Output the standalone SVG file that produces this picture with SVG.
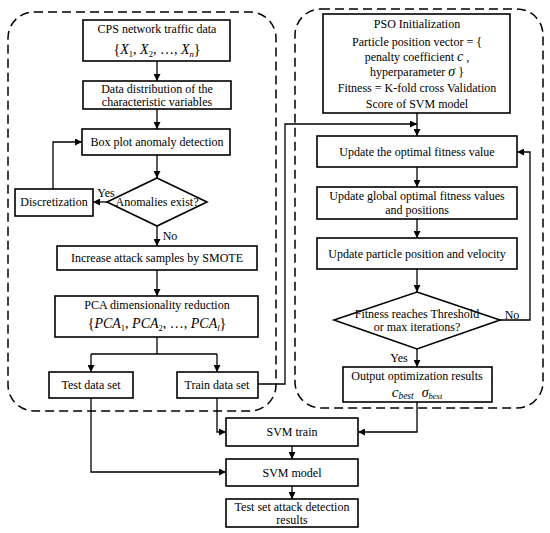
<svg xmlns="http://www.w3.org/2000/svg" width="550" height="533" viewBox="0 0 550 533" font-family="'Liberation Serif','Times New Roman',Times,serif">
<defs>
<style>
text{font-family:"Liberation Serif","Times New Roman",Times,serif;font-size:12px;fill:#000;text-anchor:middle}
.box{fill:#fff;stroke:#000;stroke-width:1.6}
.cont{fill:none;stroke:#000;stroke-width:1.5;stroke-dasharray:9 5}
.ln{fill:none;stroke:#000;stroke-width:1.3}
.m{font-size:14px}
.i{font-style:italic}
.s{font-size:8.5px}
</style>
<marker id="ah" viewBox="0 0 10 10" refX="10" refY="5" markerWidth="7" markerHeight="7" markerUnits="userSpaceOnUse" orient="auto">
<path d="M0,0 L10,5 L0,10 Z" fill="#000"/>
</marker>
</defs>
<rect width="550" height="533" fill="#fff"/>
<g id="containers">
<rect class="cont" x="8" y="12" width="268" height="399" rx="26" ry="26"/>
<rect class="cont" x="295" y="9" width="248" height="399" rx="26" ry="26"/>
</g>
<g id="connectors">
<path class="ln" d="M157,61 V81" marker-end="url(#ah)"/>
<path class="ln" d="M157,109 V129" marker-end="url(#ah)"/>
<path class="ln" d="M157,155 V178" marker-end="url(#ah)"/>
<path class="ln" d="M107,202 H93" marker-end="url(#ah)"/>
<path class="ln" d="M53,189 V142 H82" marker-end="url(#ah)"/>
<path class="ln" d="M157,226 V246" marker-end="url(#ah)"/>
<path class="ln" d="M157,270 V296" marker-end="url(#ah)"/>
<path class="ln" d="M157,337 V354"/>
<path class="ln" d="M91,354 H217"/>
<path class="ln" d="M91,354 V372" marker-end="url(#ah)"/>
<path class="ln" d="M217,354 V372" marker-end="url(#ah)"/>
<path class="ln" d="M258,384 H285 V124 H417" marker-end="url(#ah)"/>
<path class="ln" d="M417,113 V136" marker-end="url(#ah)"/>
<path class="ln" d="M417,167 V187" marker-end="url(#ah)"/>
<path class="ln" d="M417,219 V238" marker-end="url(#ah)"/>
<path class="ln" d="M417,269 V292" marker-end="url(#ah)"/>
<path class="ln" d="M500,320 H530 V152 H517" marker-end="url(#ah)"/>
<path class="ln" d="M417,349 V367" marker-end="url(#ah)"/>
<path class="ln" d="M417,402 V432 H358" marker-end="url(#ah)"/>
<path class="ln" d="M91,398 V472 H226" marker-end="url(#ah)"/>
<path class="ln" d="M217,398 V432 H226" marker-end="url(#ah)"/>
<path class="ln" d="M292,446 V459" marker-end="url(#ah)"/>
<path class="ln" d="M292,486 V499" marker-end="url(#ah)"/>
<text x="106" y="197">Yes</text>
<text x="170" y="240">No</text>
<text x="512" y="319">No</text>
<text x="399" y="362">Yes</text>
</g>
<g id="n-cps">
<rect class="box" x="83" y="20" width="147" height="41"/>
<text x="157" y="33">CPS network traffic data</text>
<text class="m" x="157" y="54">{<tspan class="i">X</tspan><tspan class="s" dy="3">1</tspan><tspan dy="-3">, </tspan><tspan class="i">X</tspan><tspan class="s" dy="3">2</tspan><tspan dy="-3">, …, </tspan><tspan class="i">X</tspan><tspan class="s i" dy="3">n</tspan><tspan dy="-3">}</tspan></text>
</g>
<g id="n-datadist">
<rect class="box" x="83" y="81" width="148" height="28"/>
<text x="157" y="93">Data distribution of the</text>
<text x="157" y="106">characteristic variables</text>
</g>
<g id="n-boxplot">
<rect class="box" x="82" y="129" width="148" height="26"/>
<text x="157" y="146">Box plot anomaly detection</text>
</g>
<g id="n-anom">
<polygon class="box" points="157,178 207,202 157,226 107,202"/>
<text x="157" y="206">Anomalies exist?</text>
</g>
<g id="n-disc">
<rect class="box" x="15" y="189" width="78" height="27"/>
<text x="54" y="206">Discretization</text>
</g>
<g id="n-smote">
<rect class="box" x="57" y="246" width="200" height="24"/>
<text x="157" y="262">Increase attack samples by SMOTE</text>
</g>
<g id="n-pca">
<rect class="box" x="55" y="296" width="203" height="41"/>
<text x="157" y="309">PCA dimensionality reduction</text>
<text class="m" x="157" y="328">{<tspan class="i">PCA</tspan><tspan class="s" dy="3">1</tspan><tspan dy="-3">, </tspan><tspan class="i">PCA</tspan><tspan class="s" dy="3">2</tspan><tspan dy="-3">, …, </tspan><tspan class="i">PCA</tspan><tspan class="s i" dy="3">l</tspan><tspan dy="-3">}</tspan></text>
</g>
<g id="n-test">
<rect class="box" x="49" y="372" width="84" height="26"/>
<text x="91" y="389">Test data set</text>
</g>
<g id="n-train">
<rect class="box" x="177" y="372" width="81" height="26"/>
<text x="217" y="389">Train data set</text>
</g>
<g id="n-pso">
<rect class="box" x="323" y="14" width="187" height="99"/>
<text x="417" y="28">PSO Initialization</text>
<text x="417" y="46">Particle position vector = {</text>
<text x="417" y="61">penalty coefficient <tspan class="i" font-size="14">c</tspan> ,</text>
<text x="417" y="76">hyperparameter <tspan class="i" font-size="14">σ</tspan> }</text>
<text x="417" y="92">Fitness = K-fold cross Validation</text>
<text x="417" y="108">Score of SVM model</text>
</g>
<g id="n-updfit">
<rect class="box" x="317" y="136" width="200" height="31"/>
<text x="417" y="156">Update the optimal fitness value</text>
</g>
<g id="n-updglobal">
<rect class="box" x="317" y="187" width="200" height="32"/>
<text x="417" y="200">Update global optimal fitness values</text>
<text x="417" y="214">and positions</text>
</g>
<g id="n-updpart">
<rect class="box" x="317" y="238" width="200" height="31"/>
<text x="417" y="258">Update particle position and velocity</text>
</g>
<g id="n-fitness">
<polygon class="box" points="417,292 500,320 417,349 334,320"/>
<text x="417" y="318">Fitness reaches Threshold</text>
<text x="417" y="331">or max iterations?</text>
</g>
<g id="n-output">
<rect class="box" x="343" y="367" width="149" height="35"/>
<text x="417" y="380">Output optimization results</text>
<text x="417" y="397"><tspan class="i" font-size="15">c</tspan><tspan class="i" font-size="9.5" dy="2">best</tspan><tspan dx="8" dy="-2" class="i" font-size="14">σ</tspan><tspan class="i" font-size="8.5" dy="2">best</tspan></text>
</g>
<g id="n-svmtrain">
<rect class="box" x="226" y="418" width="132" height="28"/>
<text x="292" y="436">SVM train</text>
</g>
<g id="n-svmmodel">
<rect class="box" x="226" y="459" width="132" height="27"/>
<text x="292" y="477">SVM model</text>
</g>
<g id="n-result">
<rect class="box" x="226" y="499" width="132" height="28"/>
<text x="292" y="511">Test set attack detection</text>
<text x="292" y="524">results</text>
</g>
</svg>
